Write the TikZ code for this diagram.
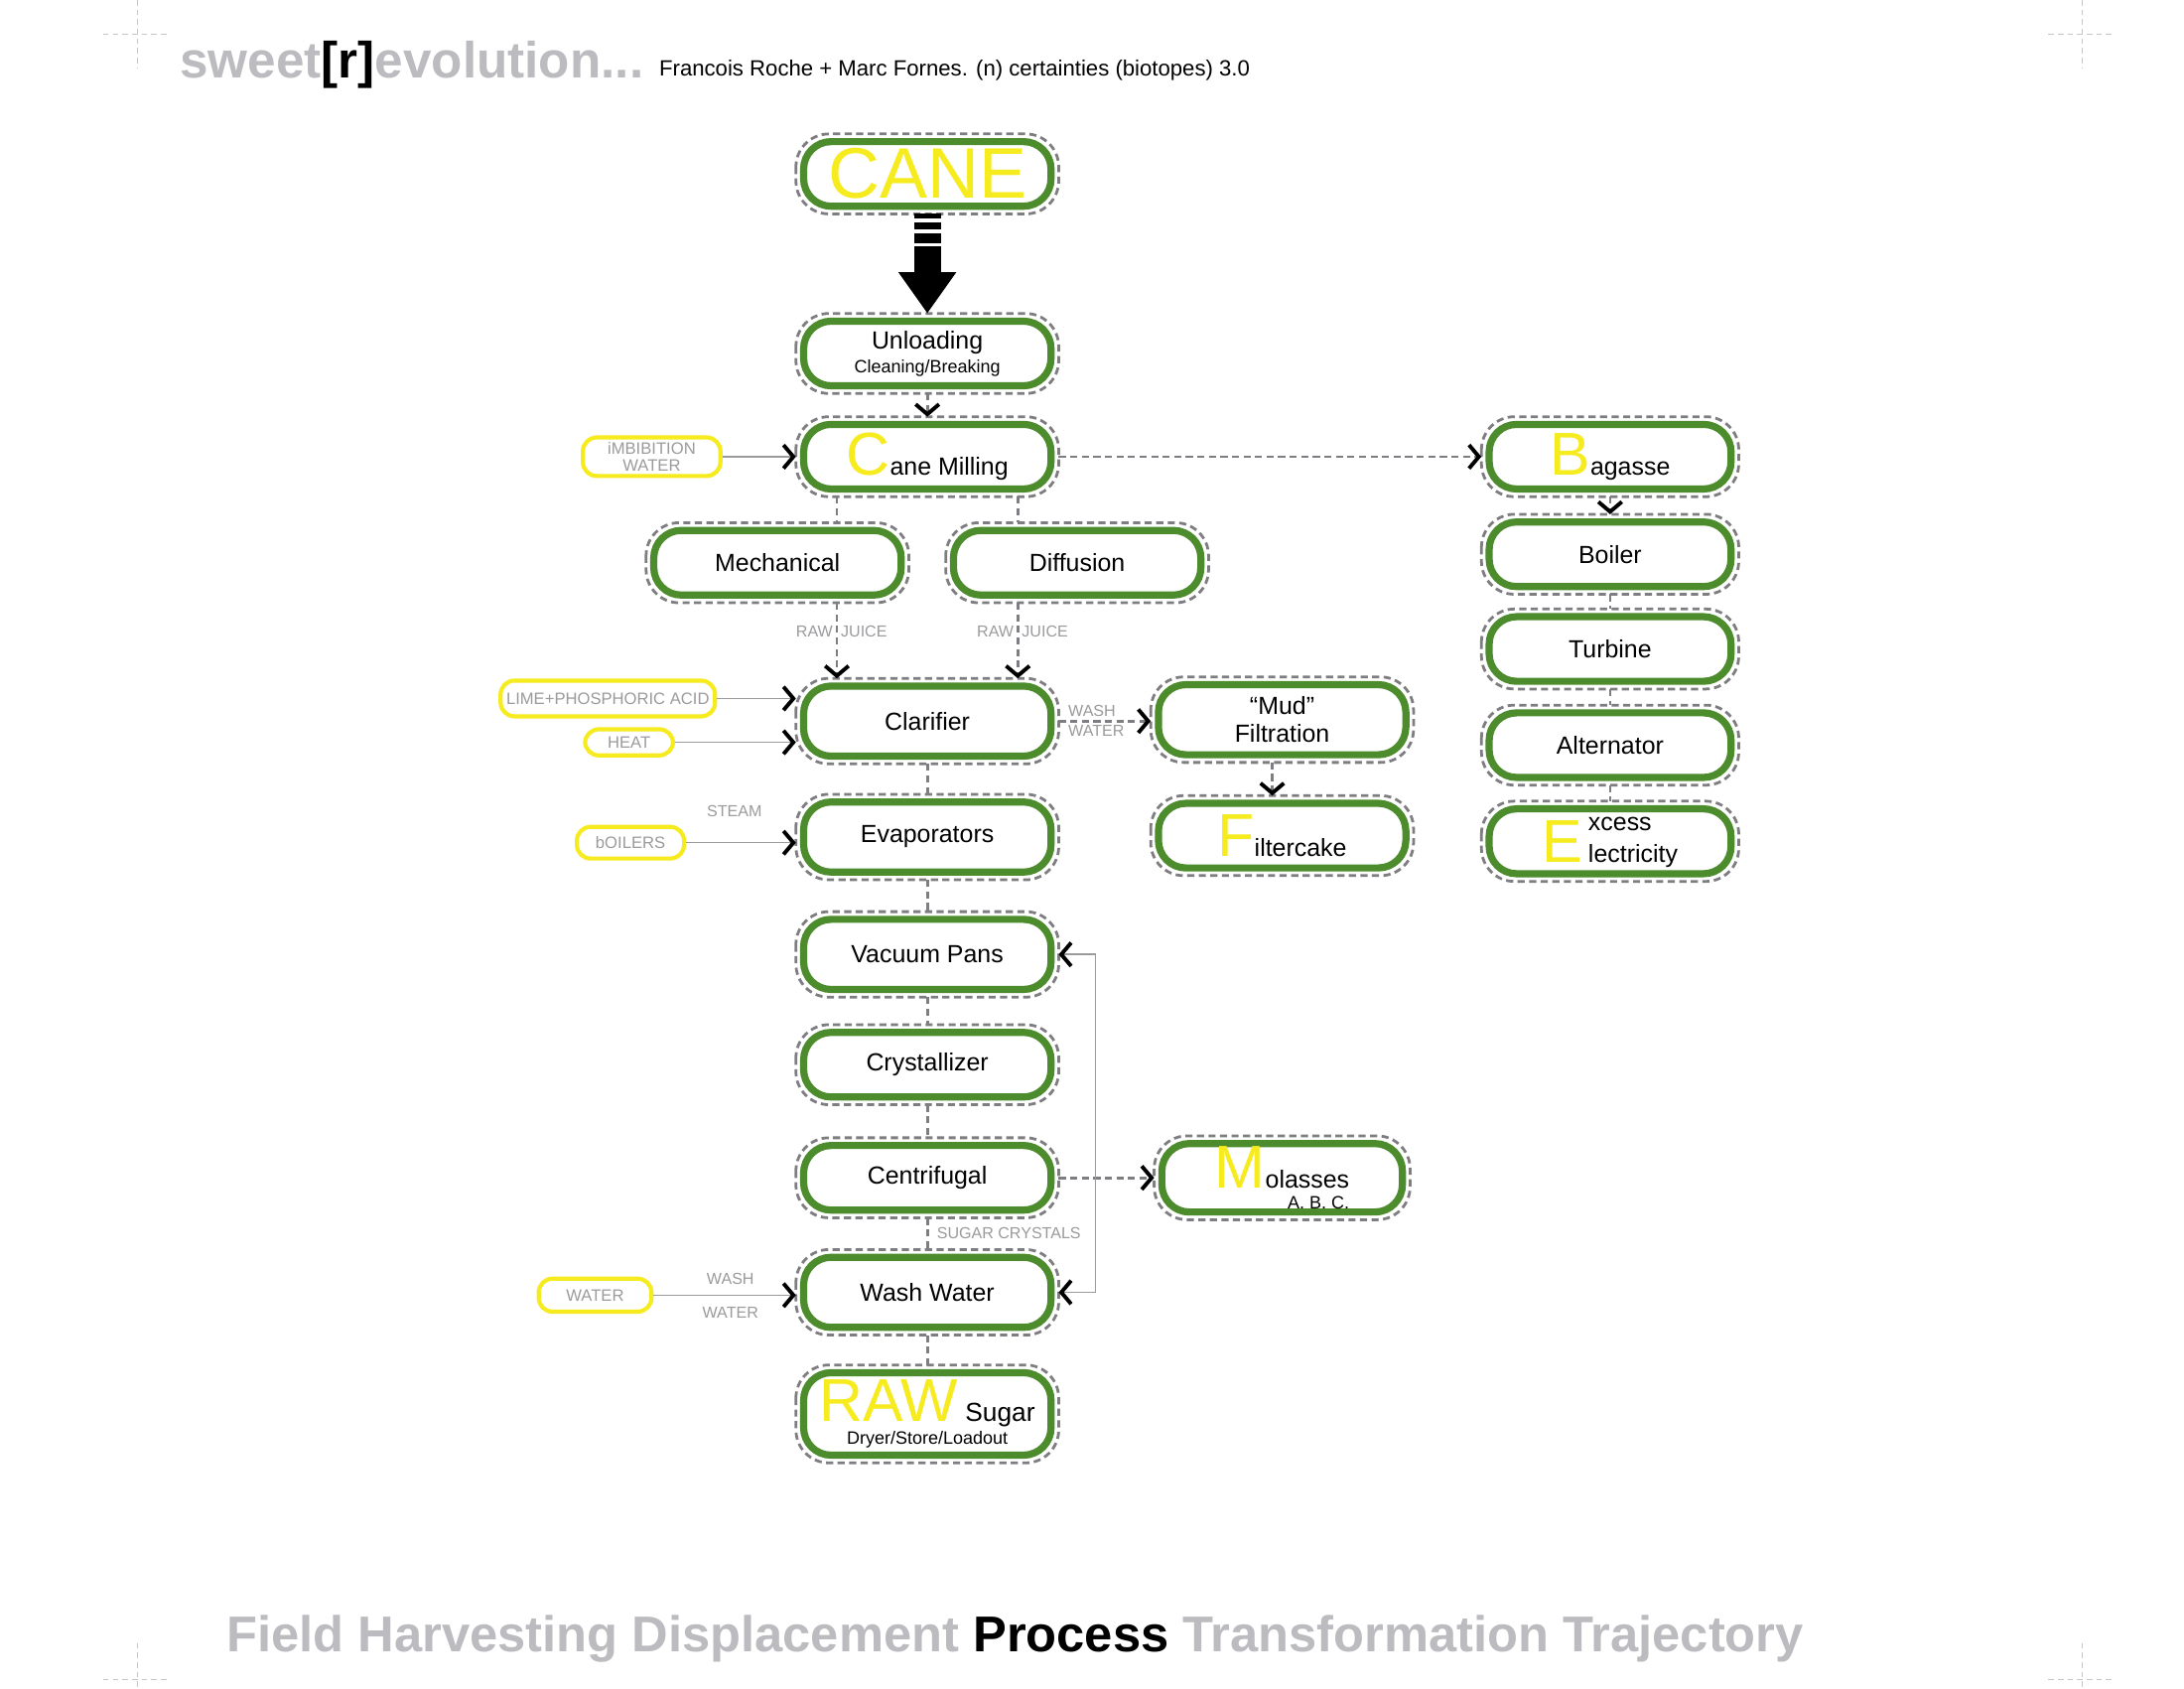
\documentclass[tikz,border=0pt]{standalone}
\usepackage{fontspec}
\setmainfont{Liberation Sans}
\usetikzlibrary{arrows.meta}

\definecolor{leaf}{RGB}{76,140,44}
\definecolor{lemon}{RGB}{246,235,30}
\definecolor{halogray}{RGB}{125,125,130}
\definecolor{taggray}{RGB}{155,155,158}
\definecolor{titlegray}{RGB}{188,188,192}

\newcommand{\initcap}[1]{{\color{lemon}\fontsize{22}{22}\selectfont #1}}
\newcommand{\smalltxt}{\fontsize{6.5}{7}\selectfont}

\tikzset{
  procbox/.style={draw=leaf, line width=2.6pt, rounded corners=10pt, fill=white,
    minimum width=90pt, minimum height=23.5pt, outer sep=2.8pt, inner sep=1pt,
    align=center, font=\fontsize{9}{10}\selectfont},
  tall/.style={minimum height=25.5pt},
  halo/.style={draw=halogray, line width=1pt, dash pattern=on 2.6pt off 1.6pt, rounded corners=12pt},
  inbox/.style={draw=lemon, line width=1.5pt, rounded corners=5pt, align=center, inner sep=0pt,
    text=taggray, font=\fontsize{6}{6.3}\selectfont},
  tag/.style={text=taggray, font=\fontsize{5.8}{6}\selectfont, inner sep=1pt},
  flow/.style={draw=halogray, line width=1pt, dash pattern=on 2.6pt off 1.6pt},
  feed/.style={draw=taggray, line width=.5pt},
  cropmark/.style={draw=gray!45, line width=.4pt, dash pattern=on 2pt off 1.5pt},
}

\begin{document}
\begin{tikzpicture}[x=0.5142pt, y=-0.5142pt,
    >={Straight Barb[color=black, line width=1.4pt, length=3.6pt, width=8.5pt]}]

  \path[fill=white, use as bounding box] (0,0) rectangle (1545,1194);

  % crop marks
  \foreach \cx in {97,1473} {
    \draw[cropmark] (\cx,0) -- (\cx,48) (\cx-24,24) -- (\cx+23,24);
    \draw[cropmark] (\cx,1162) -- (\cx,1194) (\cx-24,1188) -- (\cx+23,1188);
  }

  % header and footer
  \node[anchor=base west, inner sep=0pt, text=titlegray, font=\bfseries\fontsize{18.5}{20}\selectfont]
    (brand) at (127,55) {sweet{\color{black}[r]}evolution...};
  \node[anchor=base west, inner sep=0pt, font=\fontsize{8}{9}\selectfont]
    (credit) at (466,54) {Francois Roche + Marc Fornes. (n) certainties (biotopes) 3.0};
  \node[anchor=base west, inner sep=0pt, text=titlegray, font=\bfseries\fontsize{18.3}{20}\selectfont]
    (motto) at (160,1168) {Field Harvesting Displacement {\color{black}Process} Transformation Trajectory};

  \begin{scope}[every node/.style={procbox}]
    \node (cane)    at (656,123)  {\fontsize{26}{26}\selectfont\color{lemon}CANE};
    \node (unload)  at (656,250)  {Unloading\\[-1.3pt]{\smalltxt Cleaning/Breaking}};
    \node (mill)    at (656,323)  {\initcap{C}ane Milling};
    \node (mech)    at (550,398)  {Mechanical};
    \node (diff)    at (762,398)  {Diffusion};
    \node[tall] (clar) at (656,510) {Clarifier};
    \node[tall] (mud)  at (907,509) {“Mud”\\Filtration};
    \node (cake)    at (907,591)  {\initcap{F}iltercake};
    \node[tall] (evap) at (656,592) {Evaporators};
    \node[tall] (vac)  at (656,675) {Vacuum Pans};
    \node (cryst)   at (656,753)  {Crystallizer};
    \node (centri)  at (656,833)  {Centrifugal};
    \node[minimum width=87.5pt, align=right] (molas) at (907,833)
      {\initcap{M}olasses\\[-2.3pt]{\smalltxt A. B. C.}};
    \node[tall] (wash) at (656,914) {Wash Water};
    \node[minimum height=30pt] (raw) at (656,1000)
      {\initcap{RAW} {\fontsize{9.5}{10}\selectfont Sugar}\\[-1.5pt]\smalltxt Dryer/Store/Loadout};
    \node[minimum width=88pt] (bagasse) at (1139,323) {\initcap{B}agasse};
    \node[minimum width=88pt] (boiler)  at (1139,392) {Boiler};
    \node[minimum width=88pt] (turbine) at (1139,459) {Turbine};
    \node[minimum width=88pt] (alter)   at (1139,527) {Alternator};
    \node[minimum width=88pt] (excess)  at (1139,595)
      {\initcap{E}\hspace{2pt}\begin{tabular}[b]{@{}l@{}}xcess\\[1.6pt]lectricity\end{tabular}};
  \end{scope}

  \foreach \n in {cane,unload,mill,mech,diff,clar,mud,cake,evap,vac,cryst,centri,molas,wash,raw,
                  bagasse,boiler,turbine,alter,excess}
    \draw[halo] (\n.north west) rectangle (\n.south east);

  \begin{scope}[every node/.style={inbox}]
    \node[minimum width=50pt, minimum height=14pt] (imbib) at (461,323) {iMBIBITION\\WATER};
    \node[minimum width=78pt, minimum height=13pt] (lime)  at (430,494) {LIME+PHOSPHORIC ACID};
    \node[minimum width=32pt, minimum height=9.5pt] (heat) at (445,525) {HEAT};
    \node[minimum width=39pt, minimum height=11.5pt] (boil) at (446,596) {bOILERS};
    \node[minimum width=41pt, minimum height=12pt] (water) at (421,916) {WATER};
  \end{scope}

  % big feed arrow
  \draw[line width=9.7pt, dash pattern=on 1.5pt off 1.5pt on 2.6pt off 1.5pt on 3.6pt off 1pt on 80pt,
        -{Triangle[length=15pt, width=20pt]}] (cane) -- (unload);

  \begin{scope}[every node/.style={tag}]
    \begin{scope}[every edge/.style={flow}]
      \path (unload) edge[->] (mill);
      \path (mill) edge[->] (bagasse);
      \path ([shift={(-64,0)}]mill.south) edge ([shift={(-64,0)}]mill.south |- mech.north);
      \path ([shift={(64,0)}]mill.south) edge ([shift={(64,0)}]mill.south |- diff.north);
      \path ([shift={(42,0)}]mech.south) edge[->] node[left, pos=.38] {RAW} node[right, pos=.38] {JUICE}
        ([shift={(42,0)}]mech.south |- clar.north);
      \path ([shift={(-42,0)}]diff.south) edge[->] node[left, pos=.38] {RAW} node[right, pos=.38] {JUICE}
        ([shift={(-42,0)}]diff.south |- clar.north);
      \path (clar.east) edge[->] node[anchor=south west, pos=0, xshift=2pt] {WASH}
        node[anchor=north west, pos=0, xshift=2pt] {WATER} (clar.east -| mud.west);
      \path ([shift={(-7,0)}]mud.south) edge[->] ([shift={(-7,0)}]mud.south |- cake.north);
      \path (clar) edge (evap);
      \path (evap) edge (vac);
      \path (vac) edge (cryst);
      \path (cryst) edge (centri);
      \path (centri) edge node[right, xshift=2pt] {SUGAR CRYSTALS} (wash);
      \path (wash) edge (raw);
      \path (centri) edge[->] (molas);
      \path (bagasse) edge[->] (boiler);
      \path (boiler) edge (turbine);
      \path (turbine) edge (alter);
      \path (alter) edge (excess);
    \end{scope}

    \begin{scope}[every edge/.style={feed}]
      \path (imbib) edge[->] (imbib -| mill.west);
      \path (lime) edge[->] (lime -| clar.west);
      \path (heat) edge[->] (heat -| clar.west);
      \path (boil) edge[->] node[above=8pt, pos=.44] {STEAM} (boil -| evap.west);
      \path (water) edge[->] node[above=2.7pt, pos=.54] {WASH} node[below=3.2pt, pos=.54] {WATER}
        (water -| wash.west);
    \end{scope}
    \draw[feed, <->] (vac.east) -- ++(26,0) |- (wash.east);
  \end{scope}

\end{tikzpicture}
\end{document}
